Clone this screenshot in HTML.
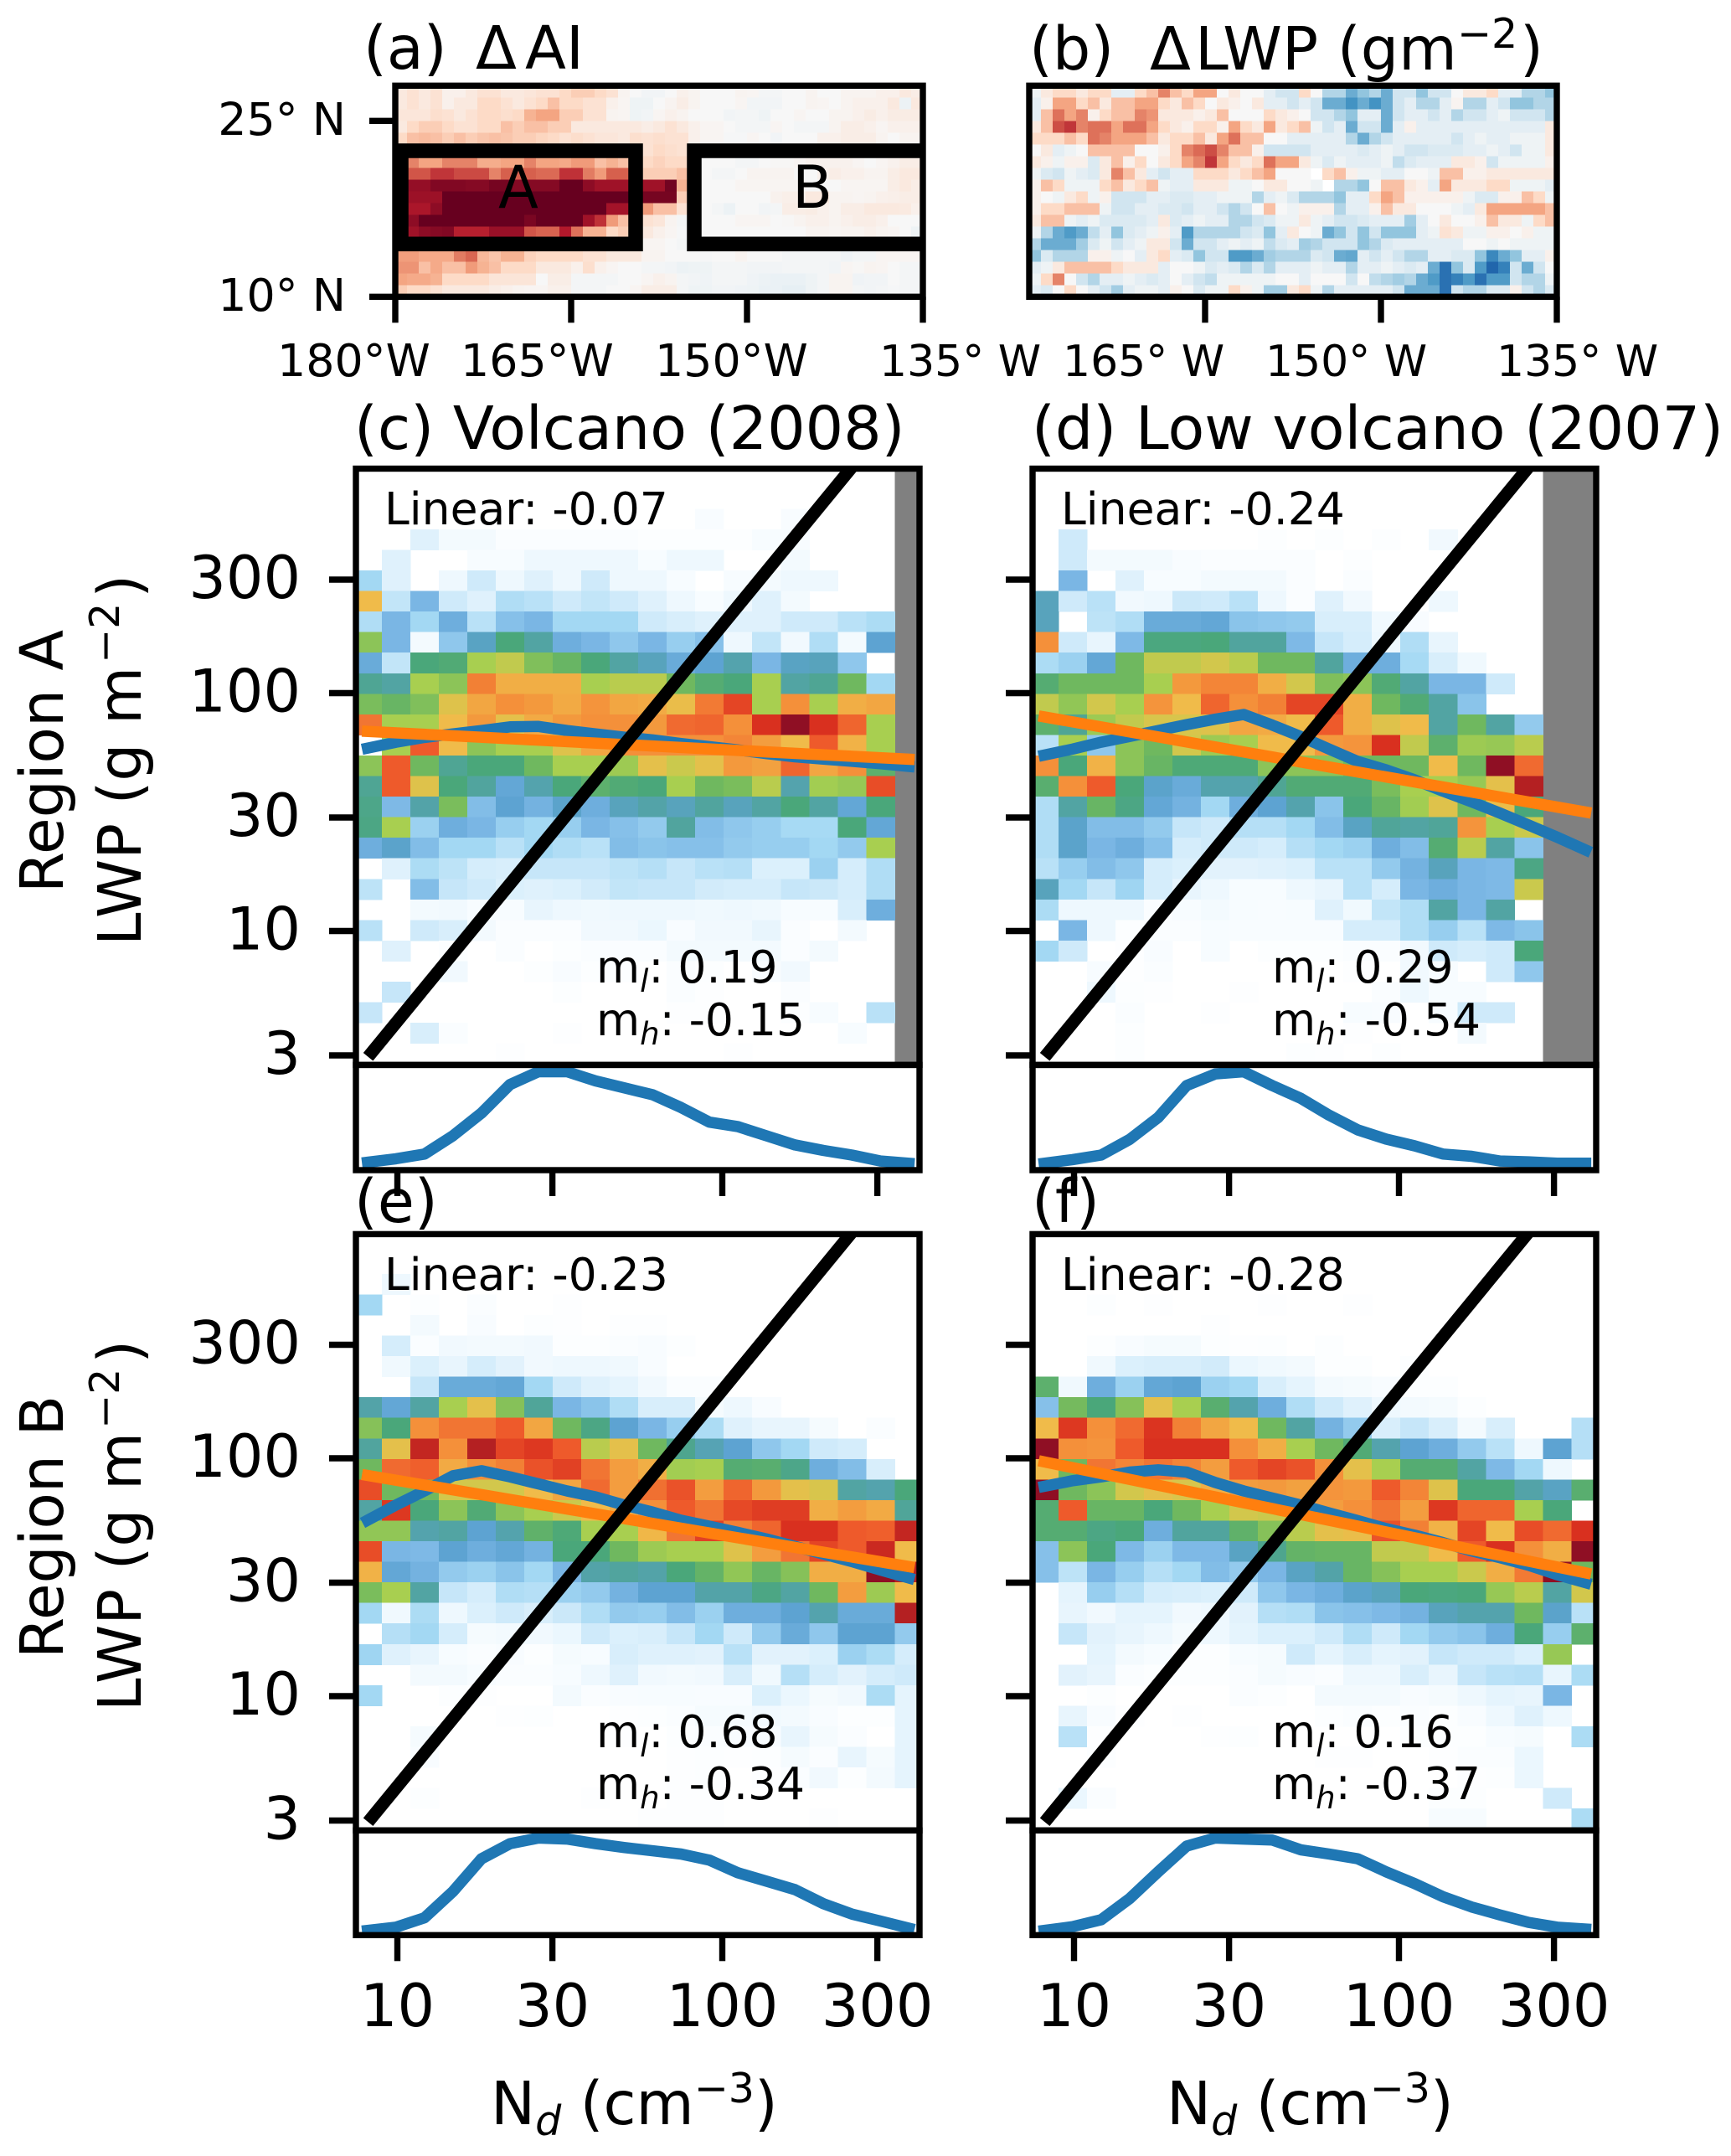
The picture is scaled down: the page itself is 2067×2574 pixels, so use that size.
<!DOCTYPE html>
<html lang="en">
<head>
<meta charset="utf-8">
<title>Volcano LWP and Nd joint histograms</title>
<style>
html,body{margin:0;padding:0;background:#fff;}
svg{display:block;}
text{font-family:"DejaVu Sans","Liberation Sans",sans-serif;fill:#000;}
.big{font-size:70px;}
.title{font-size:71.5px;}
.axis-title{font-size:71px;}
.tick52{font-size:52px;}
.tick54{font-size:53.8px;}
.note{font-size:53.5px;}
</style>
</head>
<body>
<svg id="figure" xmlns="http://www.w3.org/2000/svg" width="2067" height="2574" viewBox="0 0 2067 2574">
<rect x="0" y="0" width="2067" height="2574" fill="#fff"/>
<defs id="clips"></defs>
<g id="marks"></g>

<text class="title" x="434" y="82">(a)</text>
<text class="title" x="568" y="82">Δ<tspan x="627">AI</tspan></text>
<text class="title" x="1229" y="83">(b)</text>
<text class="title" x="1373" y="83">Δ<tspan x="1427">LWP (gm</tspan><tspan x="1740" y="57" font-size="49">−2</tspan><tspan x="1815" y="83">)</tspan></text>
<text class="big" x="619" y="248" text-anchor="middle">A</text>
<text class="big" x="970" y="248" text-anchor="middle">B</text>

<text class="tick54" x="331" y="449">180°W</text>
<text class="tick54" x="550" y="449">165°W</text>
<text class="tick54" x="782" y="449">150°W</text>
<text class="tick52" x="1050" y="449">135° W</text>
<text class="tick52" x="1269" y="449">165° W</text>
<text class="tick52" x="1511" y="449">150° W</text>
<text class="tick52" x="1787" y="449">135° W</text>
<text class="tick54" x="413" y="161" text-anchor="end">25° N</text>
<text class="tick54" x="413" y="371" text-anchor="end">10° N</text>

<text class="title" x="423" y="536">(c) Volcano (2008)</text>
<text class="title" x="1232" y="536">(d) Low volcano (2007)</text>
<text class="title" x="423" y="1459">(e)</text>
<text class="title" x="1232" y="1459">(f)</text>

<text class="note" x="459" y="626">Linear: -0.07</text>
<text class="note" x="1267" y="626">Linear: -0.24</text>
<text class="note" x="459" y="1540">Linear: -0.23</text>
<text class="note" x="1267" y="1540">Linear: -0.28</text>

<text class="note" x="712" y="1173">m<tspan font-size="37" font-style="italic" dy="11">l</tspan><tspan dy="-11">: 0.19</tspan></text>
<text class="note" x="712" y="1236">m<tspan font-size="37" font-style="italic" dy="11">h</tspan><tspan dy="-11">: -0.15</tspan></text>
<text class="note" x="1519" y="1173">m<tspan font-size="37" font-style="italic" dy="11">l</tspan><tspan dy="-11">: 0.29</tspan></text>
<text class="note" x="1519" y="1236">m<tspan font-size="37" font-style="italic" dy="11">h</tspan><tspan dy="-11">: -0.54</tspan></text>
<text class="note" x="712" y="2086">m<tspan font-size="37" font-style="italic" dy="11">l</tspan><tspan dy="-11">: 0.68</tspan></text>
<text class="note" x="712" y="2148">m<tspan font-size="37" font-style="italic" dy="11">h</tspan><tspan dy="-11">: -0.34</tspan></text>
<text class="note" x="1519" y="2086">m<tspan font-size="37" font-style="italic" dy="11">l</tspan><tspan dy="-11">: 0.16</tspan></text>
<text class="note" x="1519" y="2148">m<tspan font-size="37" font-style="italic" dy="11">h</tspan><tspan dy="-11">: -0.37</tspan></text>

<text class="axis-title" transform="translate(75,909) rotate(-90)" text-anchor="middle">Region A</text>
<text class="axis-title" transform="translate(168,1129) rotate(-90)">LWP (g m<tspan font-size="49" dy="-26" dx="4">−2</tspan><tspan dy="26" dx="6">)</tspan></text>
<text class="axis-title" transform="translate(75,1823) rotate(-90)" text-anchor="middle">Region B</text>
<text class="axis-title" transform="translate(168,2043) rotate(-90)">LWP (g m<tspan font-size="49" dy="-26" dx="4">−2</tspan><tspan dy="26" dx="6">)</tspan></text>

<text class="axis-title" x="586" y="2536">N<tspan font-size="49" font-style="italic" dy="13">d</tspan><tspan dy="-13"> (cm</tspan><tspan font-size="49" dy="-26">−3</tspan><tspan dy="26">)</tspan></text>
<text class="axis-title" x="1393" y="2536">N<tspan font-size="49" font-style="italic" dy="13">d</tspan><tspan dy="-13"> (cm</tspan><tspan font-size="49" dy="-26">−3</tspan><tspan dy="26">)</tspan></text>
</svg>

<script>
// ---------- chart data ----------
const xTickValues = [10, 30, 100, 300];
const yTickValues = [3, 10, 30, 100, 300];
const lonTickValues = [180, 165, 150, 135];
const latTickValues = [25, 10];
const regionLonA = [179.5, 159.5];
const regionLonB = [154.5, 130];
const regionLat = [22.45, 14.5];
const referenceNd = [8.13, 400];
const referenceLwp = [2.96, 1941];

const linearSlope = [-0.07, -0.24, -0.23, -0.28];
const linearAt10 = [68, 75.5, 80.7, 91];

const meanLwpC = [58.7,62.2,65.1,67.4,69.6,72.1,72.4,69.6,67.4,65.3,63.6,61.4,59.5,57.7,55.7,54.0,52.8,51.7,50.5,49.2];
const meanLwpD = [54.9,58.2,62.2,65.7,69.6,73.7,77.7,81.3,73.4,65.7,58.2,51.6,47.6,43.2,38.7,34.9,31.3,27.9,24.8,21.9];
const meanLwpE = [54.9,63.6,72.9,84.4,88.6,83.5,78.0,72.9,68.8,63.6,59.4,54.9,51.8,48.8,45.8,42.6,39.6,36.8,33.9,31.4];
const meanLwpF = [76.2,80.5,83.5,87.5,89.4,87.5,79.1,72.9,68.1,63.6,58.9,54.7,50.6,47.5,44.2,40.8,38.2,35.5,32.4,30.0];

const pdfC = [.08,.116,.163,.35,.58,.87,1,1,.907,.837,.767,.637,.488,.442,.349,.256,.2,.153,.093,.07];
const pdfD = [.07,.107,.153,.312,.535,.86,.977,1,.86,.73,.558,.409,.316,.247,.163,.14,.093,.084,.07,.07];
const pdfE = [.048,.081,.176,.443,.776,.929,.986,.976,.929,.89,.857,.824,.762,.633,.548,.462,.319,.214,.143,.071];
const pdfF = [.048,.086,.157,.371,.643,.905,.986,.976,.967,.867,.824,.776,.643,.524,.39,.286,.205,.129,.081,.062];

// joint histogram levels, rows top to bottom, 20 Nd bins; null = no data (grey)
const heatC = [
[0,0,0,0,0,0,0,0,0,0,0,0,.4,0,0,.4,0,0,0,null],
[0,0,1.5,.7,.7,.3,.3,.3,.3,.3,.2,.2,.2,.2,.5,.5,0,0,0,null],
[0,1.5,0,0,.5,.5,1,1,1,1,.5,1,1,0,0,.7,0,0,0,null],
[3,1.5,0,1,2,1,1.5,1,2,1,1,.5,0,.5,.7,1,1,0,0,null],
[9,2.3,4,2,1.5,2.7,2.5,2,2.3,2,1.5,1,.5,1,1.5,.7,0,0,0,null],
[2.7,4,3,4.2,2.5,3.7,4,3,3,3,2,1.7,1.5,1.5,1.5,2,2,2.5,2.8,null],
[7.5,4,.7,3.5,4.7,6,5.2,4.2,4,3.5,4,3.3,3.7,1,2.3,.8,2.7,.7,4.5,null],
[4.3,2.3,6,6.2,8,8.3,7.3,6.8,6,5.2,4.8,4.3,4.5,5,4,4.7,4.8,3.5,0,null],
[5.5,5.2,8,7.5,10.3,9.3,9.3,9.3,8,8.2,8.2,7,6.3,6,8,5.2,5.5,7,3,null],
[7.2,6.8,7.3,8.7,9.5,10,9.8,9.4,9.9,9.5,9.4,8.9,10.4,11.5,8,10,8,9.3,9.5,null],
[10.5,8,8,9,9.8,8.8,9.4,9.8,10,10,9.8,10.7,10.8,10,12,13,12,10.8,8,null],
[0,8,11,9,7.5,8,8,8.7,9.5,10,10,10,10,10.2,9.7,9,11,9.2,8,null],
[7.5,11,7,5.5,6,6,7,8,8,7.8,8.8,8.4,8.8,9.8,9.6,10.8,9.5,10,6.5,null],
[5.5,11,8.7,6,5.3,4.4,5,6,6.5,6.2,6,8,7,7.2,8.2,5,7.9,7.7,11.3,null],
[5.7,3.9,5.1,7.2,3.8,4.5,4.1,4.6,4.2,4.8,5.1,4.8,5.3,4.8,5.2,6,5.2,4.4,6,null],
[5.8,8,3.2,4.2,4,3.3,3,3.3,4,3.7,3.4,5.3,3.8,3.5,3.3,2.9,2.9,6,4.4,null],
[4.2,4.6,3.8,3,3,2.5,3,2.7,2.5,3.8,3.6,3.7,3.7,3.4,3.3,3.3,3,3.4,8,null],
[0,1.5,2.8,2.4,1.8,1.7,2.2,2.2,2.2,2.4,2.6,2.2,2.5,2.6,1.6,1.6,3.2,1.8,2.7,null],
[2.4,0,3.8,2.2,2,1.6,1.5,1.6,1.9,2.3,2.2,2.2,1.9,1.8,1.8,2.2,2.1,1.8,2.7,null],
[0,0,.7,.8,.5,.5,1.2,1,.9,1,1,1,.9,1,.9,.5,.5,1.7,4.2,null],
[2.5,0,2,1.7,.7,.3,.3,.3,.8,.8,1.1,.4,.8,.8,1.2,.3,0,.7,0,null],
[0,1.5,0,.2,0,.3,0,.2,.3,.3,.3,.7,.7,.7,.7,.3,.7,0,0,null],
[0,0,0,.8,0,0,.2,.4,.2,.2,0,.3,.2,0,.4,.8,0,0,0,null],
[0,2.2,0,0,0,0,0,.2,0,0,0,.3,.1,0,0,.3,0,0,0,null],
[2.2,0,0,0,0,0,0,0,0,0,0,.1,.1,0,0,.2,.5,0,2.5,null],
[0,0,1.7,.3,0,0,0,.1,0,0,0,0,0,0,0,0,0,.5,0,null],
[0,0,0,0,0,.1,0,0,0,0,0,0,0,.1,0,0,0,0,0,null]
];
const heatD = [
[0,0,0,0,0,0,0,0,0,0,0,0,0,0,0,0,0,0,null,null],
[0,2,0,0,0,0,0,0,.2,0,.2,0,.2,0,.8,0,0,0,null,null],
[0,2,.7,.7,.7,.4,.3,.3,.3,.3,0,.2,0,0,0,0,0,0,null,null],
[0,4,0,1.5,.5,.5,.7,.7,.7,.3,0,.3,0,0,0,0,0,0,null,null],
[4.8,2,2.5,.8,1,2.1,2,2.5,1,.3,1.5,.8,0,0,1,0,0,0,null,null],
[4.8,0,2.4,2.7,4.3,4.3,4.4,3.6,3.5,3.4,1.7,1.7,.9,.4,0,0,0,0,null,null],
[10,2,1.2,3.9,5.9,5.9,6,5.3,5.3,3.9,2.2,1.8,1,2.7,1.2,0,0,0,null,null],
[2.8,3.2,4.4,7,8.3,8.3,8.5,8.2,7,7,5.3,4.2,4.2,2.9,1.7,.9,0,0,null,null],
[6.3,7,7,7,8,9.8,10.2,10.2,9.3,8.5,7.3,7.5,6.2,5.2,4,4,2,0,null,null],
[8.3,7.6,8.5,8,9.9,9,10.8,10,10.3,11.5,11.5,9.3,7,6.2,5.2,3.6,0,0,null,null],
[6.5,5.5,7.8,8.3,8.6,8.6,8.7,9.5,9.4,9,11,9.3,8.7,9,5.2,7,5.2,3.4,null,null],
[2.5,8,3.5,7.5,7,8.5,7.8,8,9,9,9.8,9.9,12,8.3,6.5,7.8,7.7,8.2,null,null],
[10,6,9.2,7.5,6.8,6.1,6.1,6.1,7.5,7.5,7.5,7,7,7,9,7,13,10.7,null,null],
[6.4,10,11,6,4.6,4.3,5,5,5.5,6.2,6.2,6.2,7.2,8,8,7.7,8.8,12.5,null,null],
[2.7,5.2,6.8,5.8,4.4,4.1,3,4.2,4.5,5,3.6,6,6.8,7.9,8.7,7,8.9,6,null,null],
[2.7,4.6,3.8,3.8,3.4,2.2,2,2.6,2.6,3,3.8,4.7,5.4,5.2,5.4,9.9,8,8.4,null,null],
[2.7,4.6,4,4.2,3.7,1.8,2,2,1.8,2.6,3,3.2,4.2,3.8,6.3,8.2,5.2,3.6,null,null],
[2.5,3.3,3.8,3.5,1.8,1.6,1.4,1.4,1.5,1.6,2.5,2.5,3.4,4.1,4.8,4,3.9,5.8,null,null],
[4.8,3,2.2,3.1,1.8,1.2,1,.5,.5,1,1.2,2.5,1.8,4,4.2,4,3.9,8.4,null,null],
[2.8,1,1,1,.3,.5,.7,.5,.4,.5,1.5,.9,2.3,2.7,5.2,4,5.2,0,null,null],
[0,4,1,.2,.3,.3,.5,.4,.4,.4,.4,1.8,1.8,2.7,3.3,2.5,3.9,3.6,null,null],
[3,2,0,.1,.4,0,.5,0,.2,.2,.2,.3,.3,.8,2,1.8,2,6,null,null],
[0,0,.5,.1,.3,0,0,0,0,0,0,.1,0,.8,.5,0,2,3.5,null,null],
[0,0,1,.2,.1,0,0,.1,0,0,0,0,.3,1,.5,.5,0,0,null,null],
[0,0,0,.3,0,0,.1,0,0,0,0,.5,.4,0,.5,2,2,0,null,null],
[0,0,0,.2,0,0,0,0,0,0,0,.1,0,0,0,.7,0,0,null,null],
[0,0,0,.2,0,0,0,0,0,.2,.1,0,.2,0,0,0,0,0,null,null]
];
const heatE = [
[0,1,0,0,0,0,0,0,0,0,0,0,0,0,0,0,0,0,0,0],
[3,0,.2,0,.3,0,0,.1,0,0,0,0,0,0,0,0,0,0,0,0],
[0,0,.7,0,.4,0,.2,.1,0,.1,.1,0,0,0,0,0,0,0,0,0],
[0,1.8,.3,.8,.7,.7,.8,.2,.2,.3,.4,.2,0,0,0,0,0,0,0,0],
[0,.9,1.6,1.2,1.8,1.4,.8,1,1,.9,.4,0,0,0,0,0,0,0,0,0],
[0,0,2.2,4.3,4.3,4.4,3,2,1.5,1.3,.8,.3,.3,0,0,0,0,0,0,0],
[5.1,4.4,5.2,8,8.8,7.4,5.4,4,3.6,2.7,1.7,1.7,.6,1,.4,0,0,0,0,0],
[7.4,6,10,10.5,10.5,11,9.5,7,5.8,4.5,4,3.3,2.8,1.5,1.2,1.2,.6,0,.3,0],
[5.3,8.8,12.3,10,12.5,11.5,11.8,11,8.2,8.8,7,5.6,4.9,4.5,3.5,3,2,1.8,0,0],
[7,10.7,10.9,9.4,10,10.3,11.2,11.6,10.5,9.7,9.3,7.9,8,6.3,6.4,5.7,4.2,3.8,1.7,0],
[11.3,7,7,8.5,8.5,8.5,9,9.5,10.7,9.7,10.6,11.2,9.7,10.8,9.8,8.8,8.6,5.2,5,6],
[5.2,11.8,6,7.5,6.2,7.5,8,8.4,9,9.4,10,11,10.5,11.4,11.7,11.7,9.3,9.7,9.4,5.4],
[7.6,7.6,5,5.2,4.5,5,6.6,6.1,8,8,9.1,10.5,11.6,10.3,10.8,12,12,11,10.9,12.3],
[11.3,4,3.9,4.5,4.2,4.4,4.1,6,6,7,7.8,8,8,8.7,9.7,10.5,11.5,11,12.2,9],
[9.2,4.4,4.1,3.4,3.2,3.6,3,4,5.1,5.3,5.1,6,6.7,7.6,6.8,7.4,9.3,9.3,13,12.5],
[7.2,8,5.2,2.2,1.8,2.7,2.6,3.2,3.4,4.1,4.5,4.5,5.1,5.1,5.8,5.2,7,9.7,7.8,9],
[3,.9,2.8,1,1.6,2,1.7,2.1,2.7,3.4,3.3,3.8,3.2,4.2,4.2,4.5,5,4.3,4.3,12.5],
[0,2.6,3,1.8,.6,.7,.8,1.1,2,1.6,1.7,2.2,3,2,3.4,4.3,3.5,4.5,4.5,3.4],
[3.1,1.5,1.2,.5,.3,.4,.2,.6,.5,1.7,1.5,1.5,1.4,2.5,1.4,1.4,1.6,3.2,2.8,1.8],
[0,0,.7,.7,.5,.3,.3,.5,1,1.5,.8,.7,.8,1.7,.9,2.6,1.8,1.4,1.8,2],
[3,0,0,.2,.1,0,0,.7,.3,.4,.5,.5,.4,.4,1.6,1.1,.6,.8,2.8,1.3],
[0,0,0,0,0,.1,.2,0,0,.1,.2,.3,.6,.6,.8,.7,.4,.2,.2,1.3],
[0,0,.6,0,0,0,0,0,0,.1,0,.2,.3,.4,.5,1.2,.6,.3,0,1.3],
[0,0,.4,0,0,0,0,0,0,0,0,.1,.2,.1,.2,.6,.3,1.2,.6,1.3],
[0,0,0,0,0,0,0,0,0,0,0,.1,.2,0,.1,.3,.8,.2,.7,1.3],
[0,0,.2,0,0,0,0,0,.1,0,0,.1,.1,0,0,0,0,0,0,0],
[0,0,0,0,0,0,0,0,0,0,.1,.1,.1,0,0,0,.1,0,0,0]
];
const heatF = [
[0,0,0,0,0,0,0,0,0,0,0,0,0,0,0,0,0,0,0,0],
[0,0,.2,0,.1,0,0,0,.1,0,0,.1,0,0,0,0,0,0,0,0],
[0,0,0,0,0,0,.1,0,0,0,0,0,0,0,0,0,0,0,0,0],
[0,0,.2,.4,.6,.6,.2,.1,.2,0,.2,0,0,0,0,0,0,0,0,0],
[0,0,.9,1.6,1.7,1.7,1.9,1.1,.9,.7,.2,.2,0,.2,0,0,0,0,0,0],
[6.5,.9,4.2,3.2,4.4,4.5,3.2,3,1.7,1.3,.7,.6,.4,.2,.2,0,0,0,0,0],
[3.7,7.1,6,7.4,8.8,8,6.4,5,4.2,2.7,2,1.5,1,.7,.6,.2,0,0,0,0],
[9,11.8,10,10.7,11.9,10.3,9.5,9,7,5.2,4.1,3.4,1.7,2.2,1.7,.7,1.7,0,0,2.6],
[13,10,9.9,11,12,12,12,10,9.3,8,7,6.2,5,4.5,4.2,3.4,2.5,1,4.5,2.6],
[9,7,10.5,10.2,10.5,10.2,9.7,11,11.5,11.2,10,8.8,8,6.3,6.3,5.2,3.9,3,1,0],
[13,7,7.5,8.5,8.8,8.6,9.3,9.7,9.8,9.6,9.9,9.8,11,10.2,8.7,6,6,5.1,4.7,6.4],
[6.3,11,6.8,6.8,6,7,8,8.5,8.4,9,9.7,10,10.5,9.7,11.8,10.8,10.8,8,6,0],
[6.3,6.3,5.8,6,4.2,5.3,5.3,6.6,7.4,8.2,8.8,8.9,11.2,10.3,9.2,11.5,9,11.3,10.7,12],
[3.7,7.5,6,3.9,3.2,3.9,3.9,4.7,5.6,6.7,6.8,6.8,8.3,8.3,9,11,12,10,9.3,13],
[3.7,2.4,4,3.3,2.6,3,3.8,3.4,4,4.7,5.1,6.8,7.4,8,8,8.4,9.3,10.4,13,7],
[0,1.3,3.3,2.6,1.8,1.7,1.6,2,3.5,4,4.2,4.6,4.8,6,5.9,6,7.7,8.2,5.2,8.5],
[0,1.2,.8,1.3,1.3,.8,1,1.4,2.6,2.7,3.6,3.7,3.9,4.1,4.8,5,5,7,4.6,2.5],
[0,2.2,1.4,1.2,1,.6,1,1.3,1.6,1.6,2,2.7,2,3,3.4,3.6,4.2,6,3.3,6.5],
[0,0,1.3,.7,.5,.2,.2,.5,.6,2,1.3,1.7,1.3,1.4,2.2,2,2,1.6,7.7,0],
[0,1.4,1.2,.3,.2,.2,.2,.3,.6,.4,.3,1,1,1.7,1.2,2.2,2.5,2.6,1.2,2.8],
[0,0,.2,0,0,0,0,.3,.2,0,.7,.7,.7,.4,.6,1,1.3,1.2,4,0],
[0,1.2,.4,.1,0,.1,0,0,0,0,.2,.3,.2,.3,.2,.4,1,1.5,1,0],
[0,2.5,.1,0,0,0,.1,.2,0,0,0,0,0,.2,.2,.2,.5,.6,0,2.8],
[0,0,.2,0,0,0,0,0,0,0,.1,.1,0,0,.1,.3,.3,1.1,0,0],
[0,0,0,0,0,0,0,0,0,0,0,0,0,0,0,.1,.2,1.1,0,0],
[0,1.1,.3,0,0,0,0,0,0,0,0,0,0,0,.2,.2,0,0,2,0],
[0,0,0,0,0,0,0,0,0,0,0,0,0,0,.5,.5,0,0,0,2.8]
];

// map anomalies, rows 28N to 10N, columns 180W to 135W, scale -10..10
const heatAI = [
[1,1.5,1,1.5,.5,.5,1,1.5,1.5,1,1,1.2,1.5,1.5,2,2.5,2.5,2,1.5,.3,0,-.3,-.3,0,.5,.3,0,0,0,.3,.2,-.2,-.2,0,0,.3,0,0,.3,.3,.3,.5,.5,1,.7],
[1,1.5,1,1.5,.5,1,1,2,2,1.5,1,1.5,2,3,2,2,1.5,1.5,.5,.2,-.5,-.5,0,.3,.7,.3,0,0,0,.2,-.3,-.3,-.3,0,0,.3,.2,0,.3,.5,.5,.5,1,-.6,1],
[1.2,1.2,1.2,1.7,1.5,1,1.5,2,2,1.7,2,3.5,4,4,2.5,2.5,1.5,1.5,.3,.2,-.5,-.3,.2,.5,.3,0,0,0,-.3,-.2,-.2,-.5,0,0,.2,0,0,.3,.3,.5,.8,.5,.8,.8,.8],
[1,2,2.5,2.5,2,1.5,1.5,2,2,3,2.5,3,3,2.5,2.5,1,1,1,1,1,1,.7,1,1.5,1,.5,.2,.2,0,-.2,-.2,-.2,.2,0,-.2,-.2,-.2,.3,.7,.7,.5,.2,.5,.5,.5],
[2,3,3.2,3,2.5,3,2.5,2.8,3,2.8,2.5,2.5,2.2,2,1.5,1.8,1.5,1.2,1.2,1,1.7,1.5,1.7,1.5,1.5,.5,.2,.2,-.1,-.1,.2,0,-.3,0,0,0,.5,.5,.7,.7,.7,.3,0,.3,.3],
[4,4,4,4,4,4,4,3.5,3,3,3,3,3,3,3,3,3,3,3,2.5,2,1.5,2,1.7,1.5,.3,0,0,0,0,0,0,0,.3,.3,.3,.3,.3,.3,.5,.5,.3,.3,.3,.3],
[5,5,4,4,5,5,5,3.7,3.7,4,4,5,4,4,3.8,4.3,4.3,3,3.5,3,3,2,2.3,2,2,.3,0,0,0,-.2,-.2,0,.1,.1,.2,.4,.4,.4,.4,.2,0,.2,.4,.7,.7],
[6,6.3,6.3,7.2,7.2,6.6,6.6,6.6,5,6,6,6,5.7,5.7,7.3,7.3,5.2,4.3,6,6,5.7,2.5,2.5,2.5,3,.5,0,-.2,-.2,0,.3,.3,.3,.3,0,0,.5,.7,.5,.5,.3,.3,.7,1,1],
[8.5,8.8,8.8,9.3,9.3,9.3,9.2,9.2,9.6,9.6,9.2,9.2,9.2,9.2,10,10,9,8.5,8.5,8.5,8.5,8.5,8.5,9.7,3.5,.5,0,0,0,.2,.2,.2,.2,.2,.2,0,0,0,.2,.2,.2,.2,.7,1,.7],
[8.6,8.6,8.6,8.6,10,10,10,10,10,10,10,10,10,10,10,10,10,10,10,10,10,9.6,9.6,9.6,2.5,.3,0,0,0,0,0,0,.4,.6,.6,1,1,.3,.3,.2,.3,.5,.6,.7,.7],
[8,8.2,8.2,9,10,10,10,10,10,10,10,10,10,10,10,10,10,10,8.4,8.4,8.4,4.3,3,3,1.5,-.2,0,-.2,-.6,0,0,-.3,-.2,.7,.7,.8,.5,.3,.7,.7,1,1,1,.9,.5],
[8.5,9,10,10,10,10,10,10,10,10,10,9.5,10,10,10,10,8.5,7.3,4.3,3,3,1.5,1.2,.3,-.2,-.1,0,0,0,.2,.2,.2,0,.1,.3,.5,.5,.3,.5,.7,.7,.5,0,0,0],
[8.5,8.5,9,9.2,9.3,7.8,7.8,7.8,8.7,8.7,8.7,6.3,5.9,5.9,8,5.5,3.5,3.5,2,2.5,2,1,.5,.2,-.1,0,0,0,0,0,0,0,0,0,0,.3,.3,.2,.3,.3,.5,.3,.2,0,-.5],
[7,7,7,7,7,6,6,6,6,5,5,4,4,4,4,3,2,2,1,1,.5,.2,.2,0,-.2,0,0,0,0,0,0,0,0,0,0,.2,.2,.2,.2,.2,.2,.2,.2,0,-.2],
[4.2,4.2,3.8,3.8,3.8,5.2,5.8,3.3,2.8,3.5,3.5,2.3,2,2,2,2,1.5,1.5,1,1,1,.3,.3,0,0,0,-.1,0,0,.3,0,0,0,-.2,-.2,-.2,-.2,-.2,-.4,-.2,-.2,.2,.2,.2,.2],
[4.5,4.5,3,3.8,3,3,4.3,3.5,3,2,2,2,1,1,1,.5,1.7,.5,.2,0,0,-.2,-.2,-.3,-.6,-.5,-.5,-.2,-.2,-.2,-.3,-.3,-.3,-.2,-.2,-.2,-.2,-.3,.2,.1,.3,.2,0,-.2,-.2],
[4,3.8,3.8,3.5,2,2,2,2,1.3,1.3,1.3,1.3,0,.7,.7,-.2,-.2,-.2,-.2,0,0,.2,.5,.3,-.2,-.3,-.4,-.2,-.2,-.2,-.4,-.6,-.7,-.7,-.7,-.5,-.2,.3,.3,-.4,-.3,-.3,0,-.2,-.2],
[2.5,2,2,1.5,1,1,1,1,.7,.5,.3,.2,.2,.5,.5,-.2,-.2,-.2,0,0,.2,.7,.7,.7,-.2,-.5,-.5,-.3,-.3,-.4,-.5,-.7,-.7,-.9,-.9,-.5,-.2,.3,.3,-.2,-.3,-.2,-.1,-.2,-.2]
];
const heatLWP = [
[-.5,1,2,2,1,2,2,-1,-1,2,3,5,3,2,4,4,0,1,0,0,-1,-2,-2,2,0,-3,-3,-5,-4,-3,-5,-2,-2,-4,-2,-2,0,1,1,2,-1,-1,-3,-3,-4],
[-1,.5,4,4,2,3,1,3,3,4,4,2,1,3,2,0,1,.5,0,1,-1,-1,-2,-1,-2,-5,-5,-6,-5,-6,-5,-2,-1,-3,-3,-1,.3,-3,-3,-1,-2,-4,-4,-3,-3],
[-1,3,5.5,4,5,.5,2,3,3,5,4.5,1,1,1,.5,1,3,0,0,0,2,1,.5,0,-2,-2,-3,-4,-1,-1,-5,-2,-1,-1,-2,-1,-3,-2,-2,-1,-.5,-2,-2,-2,-3],
[1,3,6.5,7.2,5,5.5,5.5,4,5.5,5.5,4,2,1,.5,2,2,.5,4,2,1,4,1,2,3,-.5,-2,-1,-5,-2,-2,-5,-1,.5,-1,-1,-1,-1,-1,-1,-1,-1,-1,-1,-1,1],
[2,2,2,3,2,5.5,5,4,4,4,3,1,2,2,3,1,4,5.5,3,3,0,0,-1,-1,-1,-1,-1,-3,-5,-3,-2,-1,-1,-1,-1,-1,-2,-1,-.5,-1,-1,-.5,-.5,-.5,1],
[0,1,-1,-.5,0,3,3,3,3,0,0,.5,2,5,5.7,6.5,5,3,3,.5,-2,-2,-2,-2,-1,-1,-1,-1,-1.5,-1,-.5,-1,-2,-2,-1.5,-1.5,-1.5,-1,-1,-.5,-1,-2,-.5,-.5,1],
[1,.5,-.5,.5,.5,-1.5,1,3,.5,2,0,1,2,4,5,7.2,4,2,1,2,5.5,4,4,1,-.5,-1.5,-.5,-1,-1,-1,-.5,-2.5,-1.5,-1,-1,-1,1,1,.5,-2,-.5,-.5,-.5,-.5,.5],
[-.5,-1.5,-2,-.5,-1,-1.5,1,5,3,1,-1,-2,-1,-1,2,2,2,1,2,3,4,0,0,0,null,2,3,.5,-.5,-.5,-1,-1,0,0,-.5,3,3,.5,.5,1,1,1,1,1,1],
[.5,3,2,-.5,-.5,-.5,2,3,1,2,3,-.5,-1,-1,1,1,1,-.5,-.5,0,1,1,0,0,-.5,null,-3,-3,-4,0,3,3,1,.5,-1,4,1,1,1,2,2,-.5,-.5,-.5,-1],
[.5,0,-.5,1,2,-.5,.5,-2,-2,-2,-1,-1,-1.5,-1.5,-1,-1,-.5,-.5,-.5,-3,-1,-.5,-1.5,-3,-3,-3,-4,-1,-1,2,4,3,.5,.5,.5,.5,.5,-.5,-1.5,-1.5,.5,.5,3,2,-.5],
[.5,2,2,3,3,3,-.5,-2,-2,-1,-1,-1.5,-1.5,-2,-1,-1,-2,-3,-2,0,3,0,-.5,.5,.5,.5,-3,-1,-1,.5,3,1,1,0,0,0,-.5,-1,1,4,4,4,4,4,3],
[1,3,3,-.5,-1,-.5,-1.5,-1.5,-1.5,-1.5,-1,1,-1.5,-1,-.5,-1,-1,-3,-3,-2,-1.5,-.5,-.5,1,-.5,-1,-2,-2,-1.5,-1,-1,-1,-3.5,-1,0,1,0,0,.5,3,1,1,-.5,2,3],
[-.5,-3,-5,-5.7,-5,-2.5,-1,-4,-1.5,-1,-.5,.5,-1,-5.7,-3,-3,-3,-3,-2,-1.5,-4,-1,1,0,-.5,-5,-4,-2,-4,-2,-4,-4,-4,-1,-.5,1.5,1,-.5,-.5,.5,.5,0,.5,-.5,-.5],
[-3,-5,-5,-5,-3.5,-1.5,-.5,-2,-1,-.5,1,1,-2,-5,-2,-2,-1,-.5,-1,-.5,-2.5,-1.5,-1,-3.5,-3,-2,-2,-2,-4,-3,-1.5,-1,-1,-1,-1,-1,-1,0,0,-.5,0,-.5,-.5,-.5,-.5],
[-4,-1.5,-3,-3,-3,.5,.5,-.5,0,-1,1,2,-1,-1.5,-4,-2,-2,-5.7,-5.7,-5,-3.5,-3,-3,-3,-1.5,-2,-5,-5.2,-1,-2,-1,-2,-3,-3,-1,-1,-1.5,-1.5,-4,-6.5,-5,-4,-1,-1,.5],
[-1,-.5,1,3,3,3,3,2,1,1,1,-1,0,0,-.5,-1.5,-1,-1.5,-3,-1.5,-3,-1,-1,-1,-.5,-1,-1,-3,-1,-1,-.5,-1,-1.5,-1,-5,-7.5,-4,-1.5,-5.7,-8,-6.8,-2,-5,-2,0],
[-.5,2,5,0,-2,-3,-1,-1,-.5,-1,-1.5,-1,0,-1,-2,-2.5,-.5,-.5,-.5,-.5,-.5,0,0,-1,0,0,0,-2,0,-2.5,-3,-3.5,-3,-5,-5.7,-7.5,-6.8,-5.7,-7.5,-5.7,-5.7,-2,-3,-3,-.5],
[-1,-1.5,0,2,0,-1,-2,-3.5,-1,-.5,-.5,-1,.5,0,-1.5,-.5,-.5,2,.5,-.5,-3.5,-3.5,1,2,-.5,-3,-1,-1,-1,-1,-1,-2,-5,-5,-5,-7.5,-2,-3,-3,-1.5,-1.5,.5,-2,-3,-1.5]
];

// ---------- scales and helpers ----------
const heatPanels = [heatC, heatD, heatE, heatF];
const meanPanels = [meanLwpC, meanLwpD, meanLwpE, meanLwpF];
const pdfPanels = [pdfC, pdfD, pdfE, pdfF];
const panelKeys = ['c','d','e','f'];
const frames = [
  {left:425, right:1098, top:559.5, bottom:1271.4, base:1397, tick3:1260},
  {left:1233, right:1906, top:559.5, bottom:1271.4, base:1397, tick3:1260},
  {left:425, right:1098, top:1473.4, bottom:2185.3, base:2310.3, tick3:2173.5},
  {left:1233, right:1906, top:1473.4, bottom:2185.3, base:2310.3, tick3:2173.5}
];
const NS = 'http://www.w3.org/2000/svg';
const marks = document.getElementById('marks');
const clips = document.getElementById('clips');
const X_DECADE = 388, Y_DECADE = 284, ND_BIN = 0.0877, LWP_BIN = 0.08644;
const ND_FIRST_EDGE = 0.8643, LWP_TOP_EDGE = 2.775;

function node(tag, attrs, parent){
  const n = document.createElementNS(NS, tag);
  for (const k in attrs) n.setAttribute(k, attrs[k]);
  parent.appendChild(n);
  return n;
}
function xAxis(f, logN){ return f.left + 49.5 + (logN - 1) * X_DECADE; }
function yAxis(f, logL){ return f.tick3 - (logL - Math.log10(3)) * Y_DECADE; }
function ndEdge(i){ return ND_FIRST_EDGE + i * ND_BIN; }
function lwpEdge(r){ return LWP_TOP_EDGE - r * LWP_BIN; }
function ndCentre(i){ return ndEdge(i) + ND_BIN / 2; }

const stops = [[0,'#ffffff'],[1,'#eef8fe'],[2,'#cfeafa'],[3,'#a3d8f3'],[4,'#7ab6e4'],[4.5,'#5da3d2'],[5,'#54a3ad'],[6,'#4aa77a'],[7,'#6fb85f'],[8,'#a8cf50'],[8.5,'#d2c74c'],[9,'#f0bb4a'],[10,'#f4903a'],[11,'#ee5a2b'],[12,'#d9301f'],[13,'#8f0f24']];
const rdbu = [[-10,'#053061'],[-8,'#2166ac'],[-6,'#4393c3'],[-4,'#92c5de'],[-2,'#d1e5f0'],[0,'#f7f7f7'],[2,'#fddbc7'],[4,'#f4a582'],[6,'#d6604d'],[8,'#b2182b'],[10,'#67001f']];
function ramp(table, v){
  if (v <= table[0][0]) return table[0][1];
  for (let i = 1; i < table.length; i++){
    if (v <= table[i][0]){
      const t = (v - table[i-1][0]) / (table[i][0] - table[i-1][0]);
      const a = table[i-1][1], b = table[i][1];
      const ch = s => [1,3,5].map(p => parseInt(s.substr(p,2),16));
      const A = ch(a), B = ch(b);
      return 'rgb(' + A.map((c,j) => Math.round(c + (B[j]-c)*t)).join(',') + ')';
    }
  }
  return table[table.length-1][1];
}
function polyline(points, color, width, cap, parent, name){
  const line = node('polyline', {points: points.map(p => p[0].toFixed(1)+','+p[1].toFixed(1)).join(' '), fill:'none', stroke:color, 'stroke-width':width, 'stroke-linecap':cap, 'stroke-linejoin':'round'}, parent);
  
  
  return line;
}
function clipRect(id, x, y, w, h){
  const c = node('clipPath', {id:id}, clips);
  node('rect', {x:x, y:y, width:w, height:h}, c);
}
function spine(x, y, w, h, name){
  const s = node('rect', {x:x, y:y, width:w, height:h, fill:'none', stroke:'#000', 'stroke-width':7.4, 'stroke-linejoin':'miter'}, marks);
  
  
}
function tick(x1, y1, x2, y2, name){
  const t = node('line', {x1:x1, y1:y1, x2:x2, y2:y2, stroke:'#000', 'stroke-width':7.4}, marks);
  
  
}
function label(x, y, anchor, str, name){
  const t = node('text', {x:x, y:y, 'text-anchor':anchor, class:'big'}, marks);
  t.textContent = str;
  
  
}

// ---------- joint histogram panels ----------
frames.forEach((f, p) => {
  const key = panelKeys[p];
  const g = node('g', {}, marks);
  
  
  clipRect('clip-heat-' + key, f.left, f.top, f.right - f.left, f.bottom - f.top);
  clipRect('clip-pdf-' + key, f.left, f.bottom, f.right - f.left, f.base - f.bottom);

  const cells = node('g', {'clip-path':'url(#clip-heat-' + key + ')', 'shape-rendering':'crispEdges'}, g);
  
  
  heatPanels[p].forEach((row, r) => {
    row.forEach((v, c) => {
      if (v === 0) return;
      const x0 = xAxis(f, ndEdge(c)), x1 = xAxis(f, ndEdge(c + 1));
      let y0 = yAxis(f, lwpEdge(r)), y1 = yAxis(f, lwpEdge(r + 1));
      if (v === null){ y0 = f.top; y1 = f.bottom; if (r > 0) return; }
      const cell = node('rect', {x:x0, y:y0, width:x1 - x0 + .5, height:y1 - y0 + .5, fill: v === null ? '#808080' : ramp(stops, v)}, cells);
      
      
    });
  });

  const lines = node('g', {'clip-path':'url(#clip-heat-' + key + ')'}, g);
  
  
  const meanPts = meanPanels[p].map((v, i) => [xAxis(f, ndCentre(i)), yAxis(f, Math.log10(v))]);
  polyline(meanPts, '#1f77b4', 13.5, 'square', lines, 'mean-lwp-line');
  const n0 = ndCentre(0), n1 = ndCentre(19);
  const fit = n => Math.log10(linearAt10[p]) + linearSlope[p] * (n - 1);
  polyline([[xAxis(f, n0), yAxis(f, fit(n0))], [xAxis(f, n1), yAxis(f, fit(n1))]], '#ff7f0e', 13.5, 'square', lines, 'linear-fit-line');
  const refPts = referenceNd.map((n, i) => [xAxis(f, Math.log10(n)), yAxis(f, Math.log10(referenceLwp[i]))]);
  polyline(refPts, '#000', 15, 'butt', lines, 'reference-line');

  const pdfGroup = node('g', {'clip-path':'url(#clip-pdf-' + key + ')'}, g);
  
  
  const pdfPts = pdfPanels[p].map((v, i) => [xAxis(f, ndCentre(i)), f.base - v * 117.5]);
  polyline(pdfPts, '#1f77b4', 13.5, 'square', pdfGroup, 'nd-distribution-line');

  spine(f.left, f.top, f.right - f.left, f.bottom - f.top, 'heatmap-frame-' + key);
  spine(f.left, f.bottom, f.right - f.left, f.base - f.bottom, 'distribution-frame-' + key);

  yTickValues.forEach(v => {
    const y = yAxis(f, Math.log10(v));
    tick(f.left - 32, y, f.left, y, 'y-tick');
    if (p % 2 === 0) label(f.left - 66, y + 22, 'end', String(v), 'y-tick-label');
  });
  xTickValues.forEach(v => {
    const x = xAxis(f, Math.log10(v));
    tick(x, f.base, x, f.base + 31, 'x-tick');
    if (p >= 2) label(x, 2419, 'middle', String(v), 'x-tick-label');
  });
});

// ---------- map panels ----------
const mapFrames = [
  {left:472, key:'a', data:heatAI},
  {left:1229, key:'b', data:heatLWP}
];
const DEG = 14, LAT25_Y = 144.3;
function lonAxis(m, lon){ return m.left + (180 - lon) * DEG; }
function latAxis(lat){ return LAT25_Y + (25 - lat) * DEG; }
mapFrames.forEach(m => {
  const right = lonAxis(m, 135), top = latAxis(28), bottom = latAxis(10);
  clipRect('clip-map-' + m.key, m.left, top, right - m.left, bottom - top);
  const cells = node('g', {'clip-path':'url(#clip-map-' + m.key + ')', 'shape-rendering':'crispEdges'}, marks);
  
  
  m.data.forEach((row, r) => {
    row.forEach((v, c) => {
      if (v === null) return;
      const cell = node('rect', {x:lonAxis(m, 180 - c), y:latAxis(28 - r), width:DEG + .5, height:DEG + .5, fill:ramp(rdbu, v)}, cells);
      
      
    });
  });
  if (m.key === 'a'){
    [['region-box-a', regionLonA], ['region-box-b', regionLonB]].forEach(b => {
      const box = node('rect', {x:lonAxis(m, b[1][0]), y:latAxis(regionLat[0]), width:lonAxis(m, b[1][1]) - lonAxis(m, b[1][0]), height:latAxis(regionLat[1]) - latAxis(regionLat[0]), fill:'none', stroke:'#000', 'stroke-width':17.5, 'clip-path':'url(#clip-map-a)'}, marks);
      
      
    });
    latTickValues.forEach(lat => tick(m.left - 31, latAxis(lat), m.left, latAxis(lat), 'lat-tick'));
  }
  spine(m.left, top, right - m.left, bottom - top, 'map-frame-' + m.key);
  lonTickValues.forEach(lon => {
    if (m.key === 'b' && lon === 180) return;
    tick(lonAxis(m, lon), bottom, lonAxis(m, lon), bottom + 31, 'lon-tick');
  });
});
</script>
</body>
</html>
